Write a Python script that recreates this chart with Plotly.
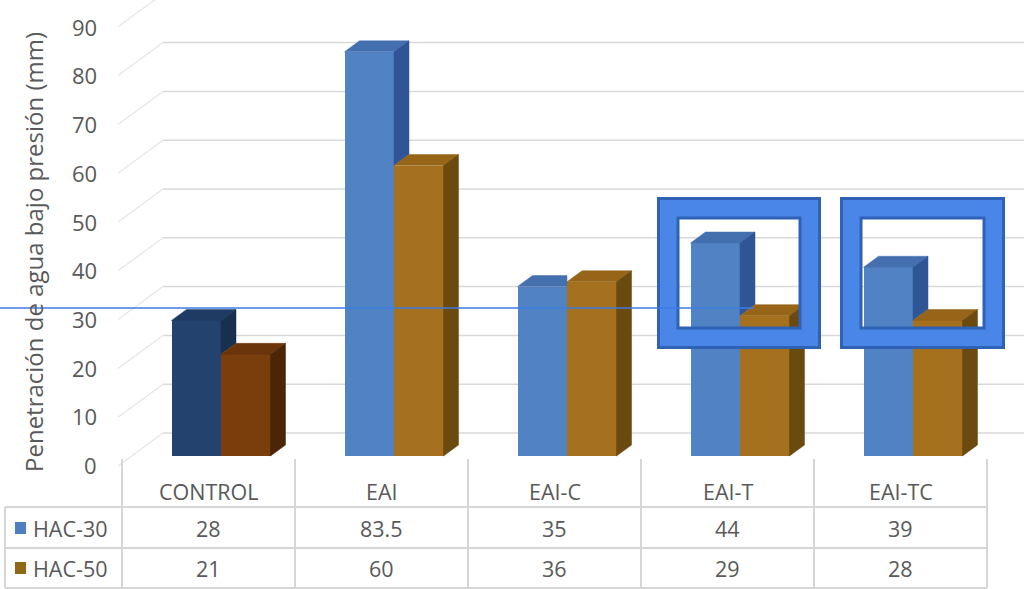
import plotly.graph_objects as go

# ---- data -------------------------------------------------------------
categories = ["CONTROL", "EAI", "EAI-C", "EAI-T", "EAI-TC"]
series_names = ["HAC-30", "HAC-50"]
hac30 = [28, 83.5, 35, 44, 39]
hac50 = [21, 60, 36, 29, 28]
y_ticks = [0, 10, 20, 30, 40, 50, 60, 70, 80, 90]
y_title = "Penetración de agua bajo presión (mm)"

# ---- geometry (pixels of the 1024x589 canvas) ------------------------------
W, H = 1024, 589
X_ORIGIN, X_STEP = 208.5, 173.0     # centre of first table column, column pitch
Y_BASE, Y_SCALE = 456.0, 4.84       # front floor line, px per unit
BACK_BASE, BACK_SCALE = 433.0, 4.88 # back-wall gridlines
LABEL_BASE, LABEL_SCALE = 465.0, 4.87

BAR_W = 49.5 / X_STEP
OFFSETS = [(171.5 - X_ORIGIN) / X_STEP, (221.0 - X_ORIGIN) / X_STEP]
DX = 15.0 / X_STEP                  # depth of the pseudo-3D prisms
DY = 11.0 / Y_SCALE

x_range = [-X_ORIGIN / X_STEP, (W - X_ORIGIN) / X_STEP]
y_range = [(Y_BASE - H) / Y_SCALE, Y_BASE / Y_SCALE]

TEXT = "#595959"
GRID = "#D9D9D9"
FONT = "Open Sans"
TICK_SIZE = 22
TABLE_SIZE = 21.5
TITLE_SIZE = 24

# colours per series: (front, top, side); first category uses a darker shade
pal = {
    0: {"normal": ("#5182C4", "#4570B0", "#2F5597"),
        "dark": ("#24426E", "#1F3A63", "#17304F")},
    1: {"normal": ("#A5711E", "#966517", "#6B4A10"),
        "dark": ("#7A3E0C", "#6A350A", "#4A2606")},
}
swatch = ["#4F7EC1", "#8E6A17"]


def px(x):
    return x / W


def py(y):
    return 1 - y / H


fig = go.Figure()

values = [hac30, hac50]

# front faces of the bars
for s, vals in enumerate(values):
    fronts = [pal[s]["dark" if i == 0 else "normal"][0] for i in range(len(categories))]
    fig.add_trace(go.Bar(
        x=list(range(len(categories))), y=vals, width=BAR_W, offset=OFFSETS[s],
        marker=dict(color=fronts, line=dict(width=0)),
        name=series_names[s], showlegend=False, hoverinfo="skip",
    ))


def face(xs, ys, color):
    fig.add_trace(go.Scatter(
        x=xs + [xs[0]], y=ys + [ys[0]], mode="lines", fill="toself",
        fillcolor=color, line=dict(width=0.5, color=color),
        showlegend=False, hoverinfo="skip",
    ))


# top and side faces of the prisms
for i in range(len(categories)):
    hb, ho = hac30[i], hac50[i]
    shade = "dark" if i == 0 else "normal"
    # series 1 (left prism)
    left = i + OFFSETS[0]
    right = left + BAR_W
    _, top_c, side_c = pal[0][shade]
    if hb > ho:
        face([left, right, right + DX, left + DX], [hb, hb, hb + DY, hb + DY], top_c)
        face([right, right, right + DX, right + DX], [ho, hb, hb + DY, ho + DY], side_c)
    else:
        face([left, right, right, left + DX], [hb, hb, hb + DY, hb + DY], top_c)
    # series 2 (right prism)
    left = i + OFFSETS[1]
    right = left + BAR_W
    _, top_c, side_c = pal[1][shade]
    face([left, right, right + DX, left + DX], [ho, ho, ho + DY, ho + DY], top_c)
    face([right, right, right + DX, right + DX], [0, ho, ho + DY, DY], side_c)

shapes = []
annotations = []

# back wall gridlines and side wall diagonals
for v in y_ticks:
    yb = BACK_BASE - BACK_SCALE * v
    shapes.append(dict(type="line", xref="paper", yref="paper", layer="below",
                       x0=px(163), x1=px(W), y0=py(yb), y1=py(yb),
                       line=dict(color=GRID, width=1.5)))
    shapes.append(dict(type="line", xref="paper", yref="paper", layer="below",
                       x0=px(118), x1=px(163), y0=py(yb + 33), y1=py(yb),
                       line=dict(color="#E6E6E6", width=1.2)))
    annotations.append(dict(xref="paper", yref="paper", x=px(99),
                            y=py(LABEL_BASE - LABEL_SCALE * v), text=str(v),
                            xanchor="right", yanchor="middle", showarrow=False,
                            font=dict(family=FONT, size=TICK_SIZE, color=TEXT)))

# axis title
annotations.append(dict(xref="paper", yref="paper", x=px(33), y=py(252),
                        text=y_title, textangle=-90, showarrow=False,
                        xanchor="center", yanchor="middle",
                        font=dict(family=FONT, size=TITLE_SIZE, color=TEXT)))

# data table
TBL = "#D6D6D6"
col_edges = [X_ORIGIN + X_STEP * (k - 0.5) for k in range(len(categories) + 1)]
for xe in col_edges:
    shapes.append(dict(type="line", xref="paper", yref="paper",
                       x0=px(xe), x1=px(xe), y0=py(459), y1=py(588),
                       line=dict(color=TBL, width=2)))
shapes.append(dict(type="line", xref="paper", yref="paper",
                   x0=px(5), x1=px(5), y0=py(507), y1=py(588),
                   line=dict(color=TBL, width=2)))
for yl in (507, 548, 588):
    shapes.append(dict(type="line", xref="paper", yref="paper",
                       x0=px(5), x1=px(col_edges[-1]), y0=py(yl), y1=py(yl),
                       line=dict(color=TBL, width=2)))

for i, c in enumerate(categories):
    annotations.append(dict(xref="x", yref="paper", x=i, y=py(491), text=c,
                            showarrow=False, xanchor="center", yanchor="middle",
                            font=dict(family=FONT, size=TABLE_SIZE, color=TEXT)))
row_y = [528, 568]
for s, vals in enumerate(values):
    for i, v in enumerate(vals):
        annotations.append(dict(xref="x", yref="paper", x=i, y=py(row_y[s]),
                                text=f"{v:g}", showarrow=False,
                                xanchor="center", yanchor="middle",
                                font=dict(family=FONT, size=TABLE_SIZE, color=TEXT)))
    annotations.append(dict(xref="paper", yref="paper", x=px(31), y=py(row_y[s]),
                            text=series_names[s], showarrow=False,
                            xanchor="left", yanchor="middle",
                            font=dict(family=FONT, size=TABLE_SIZE, color=TEXT)))
    shapes.append(dict(type="rect", xref="paper", yref="paper",
                       x0=px(15), x1=px(26), y0=py(row_y[s] + 6), y1=py(row_y[s] - 6),
                       fillcolor=swatch[s], line=dict(width=0)))

# highlight frames
FRAME = "#4A86E8"
FRAME_EDGE = "#2F62B5"
for x0, x1 in ((657, 821), (840, 1005)):
    y0, y1 = 197, 349
    shapes.append(dict(type="rect", xref="paper", yref="paper",
                       x0=px(x0 + 11), x1=px(x1 - 11), y0=py(y0 + 11), y1=py(y1 - 11),
                       line=dict(color=FRAME, width=22)))
    shapes.append(dict(type="rect", xref="paper", yref="paper",
                       x0=px(x0 + 1.5), x1=px(x1 - 1.5), y0=py(y0 + 1.5), y1=py(y1 - 1.5),
                       line=dict(color=FRAME_EDGE, width=3)))
    shapes.append(dict(type="rect", xref="paper", yref="paper",
                       x0=px(x0 + 21), x1=px(x1 - 21), y0=py(y0 + 21), y1=py(y1 - 21),
                       line=dict(color=FRAME_EDGE, width=3)))

# reference line
shapes.append(dict(type="line", xref="paper", yref="paper",
                   x0=0, x1=px(754), y0=py(308), y1=py(308),
                   line=dict(color="#3C7BE3", width=1.5)))

fig.update_layout(
    width=W, height=H,
    margin=dict(l=0, r=0, t=0, b=0),
    paper_bgcolor="white", plot_bgcolor="white",
    barmode="overlay", bargap=0,
    xaxis=dict(range=x_range, visible=False, fixedrange=True),
    yaxis=dict(range=y_range, visible=False, fixedrange=True),
    shapes=shapes, annotations=annotations,
    showlegend=False,
)

fig.write_html("out.html")
